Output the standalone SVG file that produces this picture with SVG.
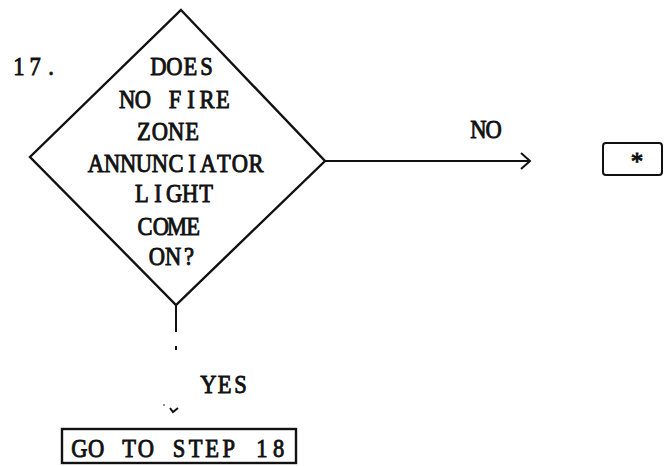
<svg xmlns="http://www.w3.org/2000/svg" width="668" height="466" viewBox="0 0 668 466">
<style>
.t{font-family:"Liberation Serif","Times New Roman",serif;font-size:25px;fill:#111;stroke:#111;stroke-width:0.9;text-anchor:middle;}
.s{fill:none;stroke:#111;stroke-width:2.4;stroke-linejoin:miter;}
.l{fill:none;stroke:#111;stroke-width:2;}
</style>
<rect width="668" height="466" fill="#fff"/>
<g id="step-label"><text class="t" transform="translate(35,75) scale(0.9,1)" x="-17.8 0 17.8">17.</text></g>
<g id="decision">
<polygon class="s" points="181,10 325,161 176,305 30,157"/>
<text class="t" transform="translate(182.5,75) scale(0.9,1)" x="-26.7 -8.9 8.9 26.7">DOES</text>
<text class="t" transform="translate(175,108) scale(0.9,1)" x="-53.3 -35.6 -17.8 0 17.8 35.6 53.3">NO FIRE</text>
<text class="t" transform="translate(168,140) scale(0.9,1)" x="-26.7 -8.9 8.9 26.7">ZONE</text>
<text class="t" transform="translate(176,172) scale(0.9,1)" x="-88.9 -71.1 -53.3 -35.6 -17.8 0 17.8 35.6 53.3 71.1 88.9">ANNUNCIATOR</text>
<text class="t" transform="translate(174,202) scale(0.9,1)" x="-35.6 -17.8 0 17.8 35.6">LIGHT</text>
<text class="t" transform="translate(169,235) scale(0.9,1)" x="-26.7 -8.9 8.9 26.7">COME</text>
<text class="t" transform="translate(173,265) scale(0.9,1)" x="-17.8 0 17.8">ON?</text>
</g>
<g id="no-target">
<rect class="l" x="603" y="143" width="59" height="32" rx="3"/>
<text class="t" x="637" y="170" font-size="23">*</text>
</g>
<g id="goto-18">
<rect class="s" x="62" y="429" width="234" height="34"/>
<text class="t" transform="translate(179,457) scale(0.9,1)" x="-110.7 -92.2 -73.8 -55.3 -36.9 -18.4 0 18.4 36.9 55.3 73.8 92.2 110.7">GO TO STEP 18</text>
</g>
<g id="connectors">
<line class="l" x1="325" y1="161" x2="530" y2="161"/>
<polyline class="l" points="521,153 530,161 521,169"/>
<text class="t" transform="translate(486,138) scale(0.9,1)" x="-8.5 8.5" font-size="21">NO</text>
<line class="l" x1="176" y1="305" x2="176" y2="332"/>
<line class="l" x1="176" y1="346" x2="176" y2="350"/>
<polyline class="l" points="170,408 173,412 178,408"/>
<circle cx="164" cy="405" r="0.8" fill="#111"/>
<text class="t" transform="translate(224.5,393) scale(0.9,1)" x="-17.8 0 17.8">YES</text>
</g>
</svg>
